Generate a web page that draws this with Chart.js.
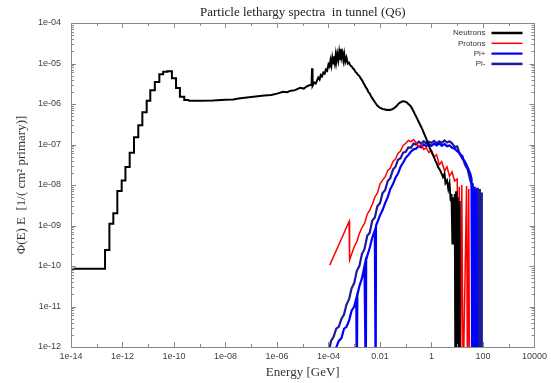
<!DOCTYPE html>
<html><head><meta charset="utf-8">
<script src="https://cdn.jsdelivr.net/npm/chart.js@4.4.1/dist/chart.umd.min.js"></script>
<style>html,body{margin:0;padding:0;background:#fff;} canvas{display:block;}</style>
</head><body>
<canvas id="c" width="551" height="383"></canvas>
<script>
const chartTitle = 'Particle lethargy spectra  in tunnel (Q6)';
const xAxisTitle = 'Energy [GeV]';
const yAxisTitle = 'Φ(E) E  [1/( cm² primary)]';
const seriesLabels = ['Neutrons', 'Protons', 'Pi+', 'Pi-'];
const seriesColors = ['#000000', '#ff0000', '#0000ff', '#1c1c96'];
const xTickValues = [1e-14, 1e-12, 1e-10, 1e-8, 1e-6, 1e-4, 1e-2, 1, 1e2, 1e4];
const xTickLabels = ['1e-14', '1e-12', '1e-10', '1e-08', '1e-06', '1e-04', '0.01', '1', '100', '10000'];
const yTickValues = [1e-12, 1e-11, 1e-10, 1e-9, 1e-8, 1e-7, 1e-6, 1e-5, 1e-4];
const yTickLabels = ['1e-12', '1e-11', '1e-10', '1e-09', '1e-08', '1e-07', '1e-06', '1e-05', '1e-04'];

// Neutrons, low-energy histogram part (left bin edges)
const neutronLowE = [1e-14, 2.1e-13, 3.1e-13, 4.4e-13, 6.3e-13, 9.3e-13, 1.3e-12, 1.9e-12, 2.8e-12, 4.1e-12,
  5.9e-12, 8.7e-12, 1.2e-11, 1.8e-11, 2.7e-11, 3.8e-11, 5.5e-11, 8.3e-11, 1.2e-10, 1.7e-10,
  2.5e-10, 3.6e-10];
const neutronLowFlux = [8.5e-11, 2.5e-10, 1.1e-9, 2.0e-9, 7.1e-9, 1.3e-8, 2.8e-8, 6.3e-8, 1.5e-7, 3.0e-7,
  6.3e-7, 1.2e-6, 2.2e-6, 3.5e-6, 5.4e-6, 6.3e-6, 6.4e-6, 4.3e-6, 2.5e-6, 1.5e-6,
  1.26e-6, 1.2e-6];
// Neutrons, higher-energy part
const neutronHighE = [3.6e-10, 1e-9, 3.2e-9, 1e-8, 2e-8, 3.2e-8, 1e-7, 3.2e-7, 6e-7, 1e-6,
  1.7e-6, 2.5e-6, 3.2e-6, 5e-6, 7.9e-6, 1.1e-5, 1.4e-5, 1.8e-5, 2.2e-5, 2.3e-5,
  2.4e-5, 2.8e-5, 3.2e-5, 4e-5, 4.5e-5, 5e-5, 5.6e-5, 6.3e-5, 7.1e-5, 7.9e-5,
  8.9e-5, 1.0e-4, 1.1e-4, 1.2e-4, 1.3e-4, 1.4e-4, 1.5e-4, 1.6e-4, 1.75e-4, 1.9e-4,
  2.0e-4, 2.2e-4, 2.4e-4, 2.6e-4, 2.8e-4, 3.0e-4, 3.2e-4, 3.5e-4, 3.8e-4, 4.1e-4,
  4.5e-4, 5.0e-4, 5.6e-4, 6.3e-4, 7.1e-4, 8.0e-4, 8.9e-4, 1.0e-3, 1.12e-3, 1.26e-3,
  1.41e-3, 1.6e-3, 1.78e-3, 2.0e-3, 2.24e-3, 2.5e-3, 2.8e-3, 3.2e-3, 3.5e-3, 4.0e-3,
  4.5e-3, 5.0e-3, 5.6e-3, 6.3e-3, 7.1e-3, 8.0e-3, 8.9e-3, 1.0e-2, 1.12e-2, 1.26e-2,
  1.41e-2, 1.6e-2, 1.78e-2, 2.0e-2, 2.24e-2, 2.5e-2, 2.8e-2, 3.2e-2, 3.5e-2, 4.0e-2,
  4.5e-2, 5.0e-2, 5.6e-2, 6.3e-2, 7.1e-2, 8.0e-2, 8.9e-2, 0.1, 0.112, 0.126,
  0.141, 0.16, 0.178, 0.2, 0.224, 0.25, 0.28, 0.32, 0.35, 0.4,
  0.45, 0.5, 0.56, 0.63, 0.71, 0.8, 0.89, 1.0, 1.12, 1.26,
  1.41, 1.6, 1.78, 2.0, 2.24, 2.8, 3.2, 3.5, 4.0, 4.5,
  5.0, 5.6, 6.0, 6.5, 6.8, 7.5, 8.0, 8.5, 9.0, 9.5,
  10.5, 11, 12, 12.5];
const neutronHighFlux = [1.2e-6, 1.2e-6, 1.22e-6, 1.28e-6, 1.3e-6, 1.36e-6, 1.48e-6, 1.62e-6, 1.66e-6, 1.8e-6,
  2.0e-6, 1.95e-6, 2.1e-6, 2.2e-6, 2.5e-6, 2.4e-6, 2.7e-6, 2.9e-6, 3.0e-6, 7.6e-6,
  2.8e-6, 3.4e-6, 3.2e-6, 4.5e-6, 4.0e-6, 5.2e-6, 4.8e-6, 6.0e-6, 5.6e-6, 7.1e-6,
  6.6e-6, 9.5e-6, 8.5e-6, 1.2e-5, 9e-6, 1.35e-5, 1.0e-5, 1.5e-5, 1.05e-5, 1.6e-5,
  1.1e-5, 1.7e-5, 1.2e-5, 1.9e-5, 1.3e-5, 2.3e-5, 1.4e-5, 1.8e-5, 1.2e-5, 1.7e-5,
  1.1e-5, 1.4e-5, 1.0e-5, 1.05e-5, 8.9e-6, 8.5e-6, 7.6e-6, 7.1e-6, 6.2e-6, 5.8e-6,
  5.2e-6, 4.9e-6, 4.3e-6, 3.9e-6, 3.4e-6, 3.0e-6, 2.6e-6, 2.3e-6, 2.0e-6, 1.8e-6,
  1.55e-6, 1.4e-6, 1.25e-6, 1.12e-6, 1.0e-6, 9.0e-7, 8.5e-7, 8.0e-7, 7.9e-7, 7.5e-7,
  7.4e-7, 7.3e-7, 7.1e-7, 7.2e-7, 7.0e-7, 7.2e-7, 7.3e-7, 7.6e-7, 7.9e-7, 8.4e-7,
  9.0e-7, 9.8e-7, 1.05e-6, 1.1e-6, 1.15e-6, 1.17e-6, 1.16e-6, 1.13e-6, 1.08e-6, 1.0e-6,
  9.4e-7, 8.6e-7, 7.6e-7, 6.6e-7, 5.7e-7, 5.0e-7, 4.3e-7, 3.6e-7, 3.2e-7, 2.7e-7,
  2.3e-7, 1.95e-7, 1.66e-7, 1.38e-7, 1.12e-7, 9.3e-8, 7.6e-8, 6.6e-8, 5.6e-8, 4.8e-8,
  4.0e-8, 3.4e-8, 2.8e-8, 2.5e-8, 2.2e-8, 1.58e-8, 1.9e-8, 1.12e-8, 1.3e-8, 8e-9,
  1.1e-8, 4e-9, 6e-9, 3.6e-10, 5e-9, 2.5e-9, 6e-9, 1e-13, 7e-9, 1e-13,
  5e-9, 1e-13, 4e-9, 1e-13];

const protonE = [1.12e-4, 3.2e-4, 6.3e-4, 6.6e-4, 8.0e-4, 1.0e-3, 1.26e-3, 1.58e-3, 2.0e-3, 2.5e-3,
  3.2e-3, 4.0e-3, 5.0e-3, 6.3e-3, 7.9e-3, 1.0e-2, 1.26e-2, 1.58e-2, 2.0e-2, 2.5e-2,
  3.2e-2, 4.0e-2, 5.0e-2, 6.3e-2, 7.9e-2, 0.1, 0.126, 0.158, 0.2, 0.25,
  0.32, 0.4, 0.5, 0.63, 0.79, 1.0, 1.26, 1.58, 2.0, 2.5,
  3.2, 4.0, 5.0, 6.3, 7.9, 10, 11, 12, 13.5, 15,
  17, 23, 25, 28, 30];
const protonFlux = [1.05e-10, 4.7e-10, 1.26e-9, 1.4e-10, 2.0e-10, 3.0e-10, 4.0e-10, 6.3e-10, 8.9e-10, 1.12e-9,
  1.9e-9, 2.4e-9, 3.3e-9, 5.0e-9, 6.3e-9, 1.05e-8, 1.32e-8, 1.58e-8, 2.3e-8, 2.6e-8,
  3.8e-8, 4.4e-8, 6.0e-8, 6.9e-8, 9.5e-8, 1.07e-7, 1.26e-7, 1.17e-7, 1.32e-7, 1.12e-7,
  8.9e-8, 1.0e-7, 7.6e-8, 8.3e-8, 6.3e-8, 7.1e-8, 5.0e-8, 5.6e-8, 3.16e-8, 3.8e-8,
  2.24e-8, 2.82e-8, 1.66e-8, 2.1e-8, 1.26e-8, 1.41e-8, 1e-13, 9e-9, 1e-13, 1.0e-8,
  1e-13, 9.5e-9, 1e-13, 8e-9, 1e-13];

const piPlusE = [1.9e-4, 2.04e-4, 2.5e-4, 3.2e-4, 4.0e-4, 5.0e-4, 6.3e-4, 7.9e-4, 1.0e-3, 1.2e-3,
  1.26e-3, 1.32e-3, 1.58e-3, 2.0e-3, 2.5e-3, 2.82e-3, 2.9e-3, 3.2e-3, 4.0e-3, 5.0e-3,
  6.3e-3, 6.8e-3, 7.0e-3, 7.9e-3, 1.0e-2, 1.26e-2, 1.58e-2, 2.0e-2, 2.5e-2, 3.2e-2,
  4.0e-2, 5.0e-2, 6.3e-2, 7.9e-2, 0.1, 0.126, 0.158, 0.2, 0.25, 0.32,
  0.4, 0.5, 0.63, 0.79, 1.0, 1.26, 1.58, 2.0, 2.5, 3.2,
  4.0, 5.0, 6.3, 7.9, 10, 12.6, 15.8, 20, 25, 32,
  36, 38, 40, 43, 47, 51, 55, 60];
const piPlusFlux = [1e-13, 1.0e-12, 1.41e-12, 1.66e-12, 2.82e-12, 3.16e-12, 4.5e-12, 7.9e-12, 1.0e-11, 1.58e-11,
  1e-13, 1.9e-11, 3.16e-11, 5.0e-11, 1.0e-10, 1e-13, 1.41e-10, 1.78e-10, 2.82e-10, 5.0e-10,
  7.6e-10, 1e-13, 1.0e-9, 1.2e-9, 1.78e-9, 2.4e-9, 3.55e-9, 5.0e-9, 7.9e-9, 1.05e-8,
  1.51e-8, 1.91e-8, 2.82e-8, 3.55e-8, 4.7e-8, 5.5e-8, 6.6e-8, 7.6e-8, 7.9e-8, 9.1e-8,
  8.5e-8, 1.0e-7, 9.1e-8, 1.02e-7, 9.3e-8, 1.05e-7, 9.5e-8, 1.07e-7, 9.3e-8, 1.02e-7,
  9.1e-8, 9.5e-8, 8.3e-8, 7.9e-8, 6.8e-8, 6.0e-8, 4.5e-8, 3.8e-8, 2.8e-8, 1.9e-8,
  1.41e-8, 1e-13, 1.1e-8, 1e-13, 9e-9, 1e-13, 8e-9, 1e-13];

const piMinusE = [1.0e-4, 1.12e-4, 1.26e-4, 1.58e-4, 2.0e-4, 2.5e-4, 3.2e-4, 4.0e-4, 5.0e-4, 6.3e-4,
  7.9e-4, 1.0e-3, 1.26e-3, 1.58e-3, 2.0e-3, 2.5e-3, 3.2e-3, 4.0e-3, 5.0e-3, 6.3e-3,
  7.9e-3, 1.0e-2, 1.26e-2, 1.58e-2, 2.0e-2, 2.5e-2, 3.2e-2, 4.0e-2, 5.0e-2, 6.3e-2,
  7.9e-2, 0.1, 0.126, 0.158, 0.2, 0.25, 0.32, 0.4, 0.5, 0.63,
  0.79, 1.0, 1.26, 1.58, 2.0, 2.5, 3.2, 4.0, 5.0, 6.3,
  7.9, 10, 12.6, 15.8, 20, 25, 32, 37, 39, 41,
  43, 46, 49, 52, 55, 59, 63, 67, 71, 76,
  81, 86, 90];
const piMinusFlux = [1e-13, 1.0e-12, 1.41e-12, 1.78e-12, 2.82e-12, 3.16e-12, 5.0e-12, 6.3e-12, 1.12e-11, 1.51e-11,
  2.82e-11, 3.8e-11, 7.6e-11, 1.0e-10, 2.0e-10, 2.6e-10, 5.6e-10, 6.6e-10, 1.32e-9, 1.58e-9,
  3.0e-9, 3.55e-9, 6.3e-9, 7.4e-9, 1.26e-8, 1.48e-8, 2.4e-8, 2.82e-8, 4.2e-8, 4.6e-8,
  6.3e-8, 6.6e-8, 8.5e-8, 8.3e-8, 1.05e-7, 1.0e-7, 1.17e-7, 1.05e-7, 1.2e-7, 1.07e-7,
  1.17e-7, 1.1e-7, 1.23e-7, 1.07e-7, 1.2e-7, 1.1e-7, 1.26e-7, 1.12e-7, 1.2e-7, 1.07e-7,
  8.7e-8, 8.9e-8, 5.75e-8, 5.25e-8, 3.16e-8, 2.51e-8, 1.32e-8, 1.0e-8, 1e-13, 8.5e-9,
  1e-13, 9e-9, 1e-13, 7.5e-9, 1e-13, 8.5e-9, 1e-13, 7e-9, 1e-13, 8e-9,
  1e-13, 6.5e-9, 1e-13];

function pts(xs, ys) { return xs.map((x, i) => ({ x: x, y: ys[i] })); }

const datasets = [
  { label: seriesLabels[0], data: pts(neutronLowE, neutronLowFlux), stepped: 'before',
    borderColor: seriesColors[0], borderWidth: 2 },
  { label: seriesLabels[0], data: pts(neutronHighE, neutronHighFlux),
    borderColor: seriesColors[0], borderWidth: 2 },
  { label: seriesLabels[1], data: pts(protonE, protonFlux), borderColor: seriesColors[1], borderWidth: 1.5 },
  { label: seriesLabels[2], data: pts(piPlusE, piPlusFlux), borderColor: seriesColors[2], borderWidth: 2.2 },
  { label: seriesLabels[3], data: pts(piMinusE, piMinusFlux), borderColor: seriesColors[3], borderWidth: 2.2 }
].map(d => Object.assign(d, { backgroundColor: d.borderColor, pointRadius: 0, fill: false, tension: 0 }));

const legendWidths = [2.5, 1.5, 2.2, 2.5];

const framePlugin = {
  id: 'frame',
  afterDatasetsDraw(chart) {
    const ctx = chart.ctx, a = chart.chartArea, xs = chart.scales.x, ys = chart.scales.y;
    ctx.save();
    ctx.strokeStyle = '#8a8a8a';
    ctx.lineWidth = 1;
    ctx.beginPath();
    for (let e = -14; e <= 4; e++) {
      const px = Math.round(xs.getPixelForValue(Math.pow(10, e))) + 0.5;
      const len = (e % 2 === 0) ? 5 : 3;
      ctx.moveTo(px, a.bottom); ctx.lineTo(px, a.bottom - len);
      ctx.moveTo(px, a.top); ctx.lineTo(px, a.top + len);
    }
    for (let e = -12; e <= -4; e++) {
      for (let m = 1; m <= 9; m++) {
        if (e === -4 && m > 1) break;
        const py = Math.round(ys.getPixelForValue(m * Math.pow(10, e))) + 0.5;
        const len = m === 1 ? 5 : 3;
        ctx.moveTo(a.left, py); ctx.lineTo(a.left + len, py);
        ctx.moveTo(a.right, py); ctx.lineTo(a.right - len, py);
      }
    }
    ctx.stroke();
    ctx.strokeRect(Math.round(a.left) + 0.5, Math.round(a.top) + 0.5,
      Math.round(a.right - a.left), Math.round(a.bottom - a.top));
    ctx.font = '8px "Liberation Sans", Arial, sans-serif';
    ctx.textAlign = 'right';
    ctx.textBaseline = 'middle';
    seriesLabels.forEach((lab, i) => {
      const y = a.top + 10 + i * 10.3;
      ctx.fillStyle = '#333';
      ctx.fillText(lab, a.right - 49, y);
      ctx.strokeStyle = seriesColors[i];
      ctx.lineWidth = legendWidths[i];
      ctx.beginPath();
      ctx.moveTo(a.right - 43, y); ctx.lineTo(a.right - 12, y);
      ctx.stroke();
    });
    ctx.restore();
  }
};

new Chart(document.getElementById('c'), {
  type: 'line',
  data: { datasets: datasets },
  plugins: [framePlugin],
  options: {
    responsive: false,
    animation: false,
    layout: { padding: { left: 0, right: 16, top: 0, bottom: 0 } },
    plugins: {
      legend: { display: false },
      tooltip: { enabled: false },
      title: {
        display: true, text: chartTitle, fullSize: false,
        color: '#222', font: { family: '"Liberation Serif", "Times New Roman", serif', size: 13, weight: 'normal' },
        padding: { top: 5, bottom: 2.4 }
      }
    },
    scales: {
      x: {
        type: 'logarithmic', position: 'bottom', min: 1e-14, max: 1e4,
        afterBuildTicks: (s) => { s.ticks = xTickValues.map(v => ({ value: v })); },
        afterFit: (s) => { s.height = 36; },
        ticks: {
          autoSkip: false, maxRotation: 0, padding: 4, color: '#404040',
          font: { family: '"Liberation Sans", Arial, sans-serif', size: 9 },
          callback: (v, i) => xTickLabels[i]
        },
        grid: { display: false, drawTicks: false, tickLength: 0 },
        border: { display: false },
        title: {
          display: true, text: xAxisTitle, color: '#333',
          font: { family: '"Liberation Serif", "Times New Roman", serif', size: 13 },
          padding: { top: 0, bottom: 2.2 }
        }
      },
      y: {
        type: 'logarithmic', position: 'left', min: 1e-12, max: 1e-4,
        afterBuildTicks: (s) => { s.ticks = yTickValues.map(v => ({ value: v })); },
        afterFit: (s) => { s.width = 71; },
        ticks: {
          autoSkip: false, padding: 10, color: '#404040',
          font: { family: '"Liberation Sans", Arial, sans-serif', size: 9 },
          callback: (v, i) => yTickLabels[i]
        },
        grid: { display: false, drawTicks: false, tickLength: 0 },
        border: { display: false },
        title: {
          display: true, text: yAxisTitle, color: '#333',
          font: { family: '"Liberation Serif", "Times New Roman", serif', size: 13 },
          padding: { top: 14, bottom: 0 }
        }
      }
    }
  }
});
</script>
</body></html>
